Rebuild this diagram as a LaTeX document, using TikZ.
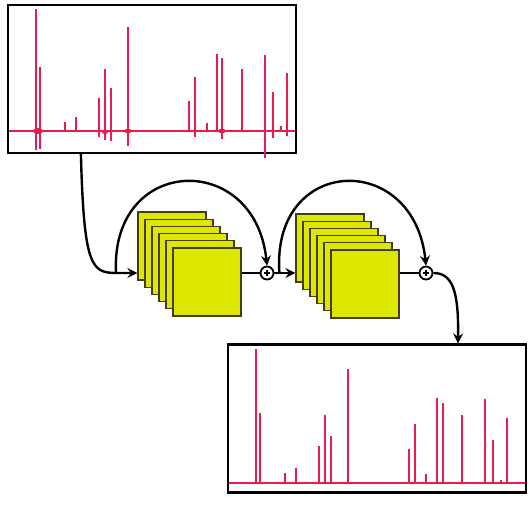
\documentclass[tikz,border=0pt]{standalone}
\usetikzlibrary{arrows.meta,calc}
\definecolor{specred}{RGB}{232,28,78}
\definecolor{fmapfill}{RGB}{221,230,0}
\definecolor{fmapline}{RGB}{70,60,20}

\begin{document}
\begin{tikzpicture}[x=1pt,y=-1pt,
  specbox/.style={draw,line width=2.2pt,minimum width=#1,minimum height=148pt,inner sep=0pt},
  peak/.style={specred,line width=1.6pt},
  fmap/.style={draw=fmapline,fill=fmapfill,line width=1.3pt,minimum size=68pt,inner sep=0pt},
  addnode/.style={circle,draw,line width=1.8pt,fill=white,minimum size=13pt,inner sep=0pt,
    path picture={\draw[line width=1.6pt] (path picture bounding box.center) +(-3,0) -- +(3,0) +(0,-3) -- +(0,3);}},
  conn/.style={line width=2.4pt,-{Stealth[length=10pt,width=10pt,inset=3.5pt]}},
  wire/.style={line width=2.4pt}]
\useasboundingbox (0,0) rectangle (532,504);

\node[specbox=288pt] (inp) at (152,79) {};
\node[specbox=298pt] (out) at (377,418.5) {};

\draw[peak] (9,131) -- (295,131);
\foreach \px/\py in {36/9,40/67,65/122,76/117,99/98,105/69,111/88,128/27,189/101,195/77,
  207/123,217/54,222/58,242/69,265/55,273/92,281/126,287/73}
  \draw[peak] (\px,131) -- (\px,\py);
\foreach \px/\py in {36/150,40/149,99/137,105/140,111/141,128/146,195/137,222/139,
  265/158,273/138,287/136}
  \draw[peak] (\px,131) -- (\px,\py);
\fill[specred] (38,131) ellipse (5pt and 3pt);
\fill[specred] (128,131) ellipse (3.5pt and 2.5pt);
\fill[specred] (222,131) ellipse (3.5pt and 2.5pt);
\fill[specred] (105,132) ellipse (3pt and 2pt);

\draw[peak] (229,483) -- (525,483);
\foreach \px/\py in {256/349,260/413,285/473,296/468,319/446,325/415,331/436,348/369,
  409/449,415/424,426/474,437/398,443/403,462/415,485/399,493/440,501/480,507/418}
  \draw[peak] (\px,483) -- (\px,\py);

\foreach \i in {0,...,5}
  \node[fmap] (s1-\i) at ({172+7*\i},{246+7.2*\i}) {};
\foreach \i in {0,...,5}
  \node[fmap] (s2-\i) at ({330+7*\i},{248+7.2*\i}) {};

\node[addnode] (add1) at (267,273) {};
\node[addnode] (add2) at (426,273) {};

\coordinate (tapin) at ($(inp.south west)+(74,0)$);
\coordinate (skip1) at (116,273);
\coordinate (skip2) at ($(add1.east)+(5,0)$);
\coordinate (tapout) at ($(out.north west)+(231,0)$);

\draw[conn] (tapin) .. controls (84,270) and (92,273) .. (118,273) -- (s1-0.west |- add1);
\draw[conn] (skip1) .. controls (110,155) and (255,150) .. (add1.north);
\draw[wire] (s1-5.east |- add1) -- (add1.west);
\draw[conn] (add1.east) -- (s2-0.west |- add1);
\draw[conn] (skip2) .. controls (271,155) and (414,150) .. (add2.north);
\draw[wire] (s2-5.east |- add2) -- (add2.west);
\draw[conn] (add2.east) .. controls (452,273) and (459,290) .. (tapout);
\end{tikzpicture}
\end{document}
